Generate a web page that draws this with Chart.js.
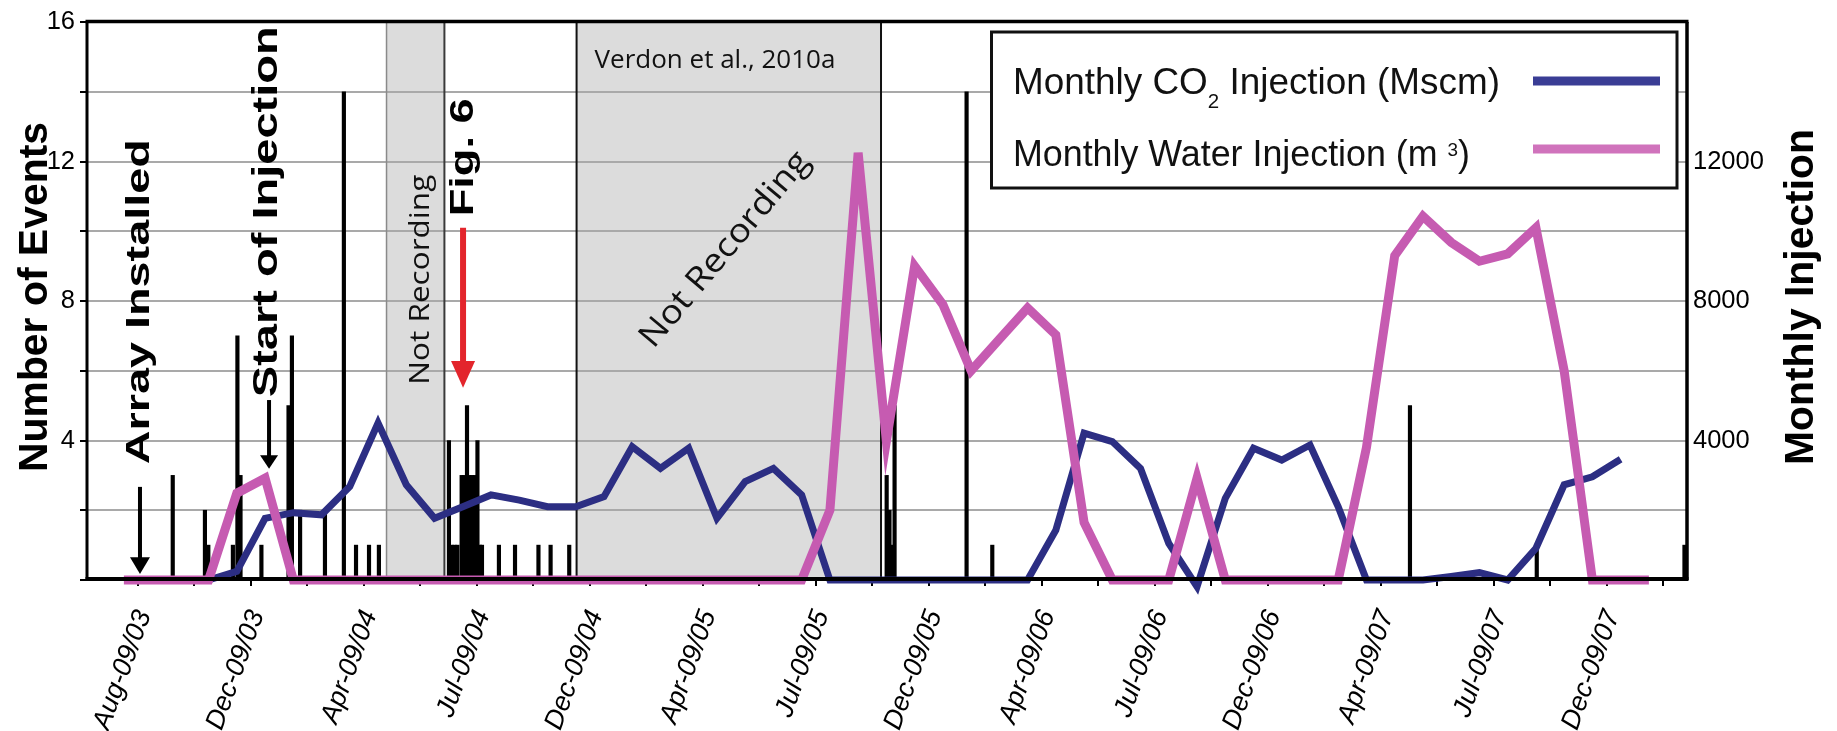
<!DOCTYPE html>
<html>
<head>
<meta charset="utf-8">
<script src="https://cdn.jsdelivr.net/npm/chart.js@4.4.0/dist/chart.umd.min.js"></script>
<style>
  html, body { margin: 0; padding: 0; background: #ffffff; }
  #wrap { width: 1837px; height: 731px; }
</style>
</head>
<body>
<div id="wrap"><canvas id="c" width="1837" height="731"></canvas></div>
<script>
// ---- Data (x values are month positions; 0 = Aug-09/03 region) ----
const xTickLabels = ['Aug-09/03', 'Dec-09/03', 'Apr-09/04', 'Jul-09/04', 'Dec-09/04', 'Apr-09/05',
  'Jul-09/05', 'Dec-09/05', 'Apr-09/06', 'Jul-09/06', 'Dec-09/06', 'Apr-09/07', 'Jul-09/07', 'Dec-09/07'];

// Monthly CO2 injection (Mscm), first value at month 2
const co2StartMonth = 2;
const co2Injection = [0, 250, 1770, 1930, 1870, 2680, 4500, 2730, 1770, 2100, 2440, 2290, 2100, 2100,
  2390, 3820, 3200, 3780, 1770, 2820, 3200, 2440, 0, 0, 0, 0, 0, 0, 0, 0, 1430, 4210, 3970, 3200, 1050,
  -190, 2340, 3780, 3440, 3870, 2100, 0, 0, 0, 100, 210, 0, 910, 2730, 2960, 3460];

// Monthly water injection (m3), first value at month -1
const waterStartMonth = -1;
const waterInjection = [0, 0, 0, 0, 2490, 2920, 0, 0, 0, 0, 0, 0, 0, 0, 0, 0, 0, 0, 0, 0, 0, 0, 0, 0, 0,
  2000, 12250, 3980, 9000, 7900, 6000, 6900, 7800, 7030, 1650, 0, 0, 0, 2920, 0, 0, 0, 0, 0,
  3800, 9300, 10430, 9680, 9140, 9350, 10100, 6000, 0, 0, 0];

// Recorded microseismic events
const eventMonth = [0.73, 1.87, 1.99, 2.86, 3.02, 3.13, 3.87, 4.83, 4.95, 5.24, 6.12, 6.79, 7.22, 7.68, 8.03,
  10.51, 10.60, 10.71, 10.81, 10.96, 11.04, 11.15, 11.24, 11.33, 11.42, 11.52, 11.61, 11.68,
  12.28, 12.85, 13.68, 14.11, 14.77,
  26.01, 26.11, 26.20, 26.29, 28.84, 29.75, 44.54, 49.03, 54.26];
const eventCount = [3, 2, 1, 1, 7, 3, 1, 5, 7, 2, 2, 14, 1, 1, 1,
  4, 1, 1, 1, 3, 3, 5, 3, 3, 3, 4, 1, 1,
  1, 1, 1, 1, 1,
  3, 2, 1, 5, 14, 1, 5, 1, 1];

// Periods with no recording (month ranges)
const notRecording = [[8.30, 10.35], [15.03, 25.81]];

// ---- Build datasets ----
const co2Points = co2Injection.map((v, i) => ({ x: co2StartMonth + i, y: v }));
const waterPoints = waterInjection.map((v, i) => ({ x: waterStartMonth + i, y: v }));
const eventPoints = eventMonth.map((m, i) => ({ x: m, y: eventCount[i] }));
const xTickValues = [];
for (let k = 0; k < 28; k++) xTickValues.push(-0.5 + 2 * k);

const SANS = "'Liberation Sans', Arial, sans-serif";
const HUMAN = "'Open Sans', 'Noto Sans', sans-serif";
const BLUE = '#2c2e83';
const PINK = '#c65bb1';

function textStretched(ctx, text, x, y, angle, font, length, baseline) {
  ctx.save();
  ctx.font = font;
  ctx.textAlign = 'center';
  ctx.textBaseline = baseline || 'alphabetic';
  const w = ctx.measureText(text).width;
  const s = length ? length / w : 1;
  ctx.translate(x, y);
  ctx.rotate(angle);
  ctx.scale(s, 1);
  ctx.fillText(text, 0, 0);
  ctx.restore();
}

function arrowDown(ctx, x, yTop, yHead, yTip, halfW, shaftW, color) {
  ctx.save();
  ctx.fillStyle = color;
  ctx.fillRect(x - shaftW / 2, yTop, shaftW, yHead - yTop + 2);
  ctx.beginPath();
  ctx.moveTo(x - halfW, yHead);
  ctx.lineTo(x + halfW, yHead);
  ctx.lineTo(x, yTip);
  ctx.closePath();
  ctx.fill();
  ctx.restore();
}

// Rich text row: pieces of {t, size, dy}; scaled to a target width
function richRow(ctx, pieces, x, y, width) {
  let total = 0;
  pieces.forEach(p => { ctx.font = p.size + 'px ' + SANS; p.w = ctx.measureText(p.t).width; total += p.w; });
  const s = width / total;
  ctx.save();
  ctx.translate(x, y);
  ctx.scale(s, 1);
  ctx.textAlign = 'left';
  ctx.textBaseline = 'alphabetic';
  ctx.fillStyle = '#111';
  let cx = 0;
  pieces.forEach(p => { ctx.font = p.size + 'px ' + SANS; ctx.fillText(p.t, cx, p.dy || 0); cx += p.w; });
  ctx.restore();
}

const decor = {
  id: 'decor',
  beforeDraw(chart) {
    const { ctx, chartArea: a, scales } = chart;
    ctx.save();
    ctx.fillStyle = '#ffffff';
    ctx.fillRect(0, 0, chart.width, chart.height);
    ctx.fillStyle = '#dcdcdc';
    notRecording.forEach(([m0, m1]) => {
      const x0 = scales.x.getPixelForValue(m0), x1 = scales.x.getPixelForValue(m1);
      ctx.fillRect(x0, a.top, x1 - x0, a.bottom - a.top);
    });
    ctx.restore();
  },
  beforeDatasetsDraw(chart) {
    const { ctx, chartArea: a, scales } = chart;
    ctx.save();
    const styles = [['#8a8a8a', 1.5, '#3a3a3a', 2], ['#111111', 2, '#111111', 2]];
    notRecording.forEach(([m0, m1], i) => {
      const x0 = scales.x.getPixelForValue(m0), x1 = scales.x.getPixelForValue(m1);
      const st = styles[i];
      ctx.strokeStyle = st[0]; ctx.lineWidth = st[1];
      ctx.beginPath(); ctx.moveTo(x0, a.top); ctx.lineTo(x0, a.bottom); ctx.stroke();
      ctx.strokeStyle = st[2]; ctx.lineWidth = st[3];
      ctx.beginPath(); ctx.moveTo(x1, a.top); ctx.lineTo(x1, a.bottom); ctx.stroke();
    });
    ctx.restore();
  },
  afterDatasetsDraw(chart) {
    const { ctx, chartArea: a, scales } = chart;
    const X = v => scales.x.getPixelForValue(v);
    const Y = v => scales.y.getPixelForValue(v);
    ctx.save();

    // plot frame
    ctx.strokeStyle = '#000';
    ctx.lineWidth = 3.5;
    ctx.beginPath(); ctx.moveTo(a.left - 1.5, a.top - 0.5); ctx.lineTo(a.right + 1.5, a.top - 0.5); ctx.stroke();
    ctx.lineWidth = 3;
    ctx.beginPath(); ctx.moveTo(a.left, a.top); ctx.lineTo(a.left, a.bottom); ctx.stroke();
    ctx.lineWidth = 3.5;
    ctx.beginPath(); ctx.moveTo(a.right, a.top); ctx.lineTo(a.right, a.bottom); ctx.stroke();
    ctx.lineWidth = 4;
    ctx.beginPath(); ctx.moveTo(a.left - 1.5, a.bottom - 1); ctx.lineTo(a.right + 1.5, a.bottom - 1); ctx.stroke();

    ctx.fillStyle = '#000';
    // axis titles
    const midY = (a.top + a.bottom) / 2 - 4;
    textStretched(ctx, 'Number of Events', a.left - 40, midY, -Math.PI / 2, 'bold 40px ' + SANS, 350);
    textStretched(ctx, 'Monthly Injection', a.right + 126, midY, -Math.PI / 2, 'bold 40px ' + SANS, 336);

    // event annotations
    textStretched(ctx, 'Array Installed', X(-0.11), Y(7.98), -Math.PI / 2, 'bold 34px ' + SANS, 325);
    arrowDown(ctx, X(-0.43), Y(2.67), Y(0.65), Y(0.17), 10, 4, '#000');
    textStretched(ctx, 'Start of Injection', X(4.42), Y(10.56), -Math.PI / 2, 'bold 35px ' + SANS, 371);
    arrowDown(ctx, X(4.14), Y(5.16), Y(3.58), Y(3.19), 9, 4, '#000');
    textStretched(ctx, 'Fig. 6', X(11.36), Y(12.12), -Math.PI / 2, 'bold 34px ' + SANS, 118);
    arrowDown(ctx, X(11.01), Y(10.1), Y(6.28), Y(5.51), 12, 6, '#e3252c');

    // not-recording labels
    ctx.fillStyle = '#111';
    textStretched(ctx, 'Not Recording', X(9.79), Y(8.61), -Math.PI / 2, '27px ' + HUMAN, 210);
    textStretched(ctx, 'Not Recording', X(20.29), Y(9.47), -50 * Math.PI / 180, '33px ' + HUMAN, 245, 'middle');
    ctx.font = '26px ' + HUMAN;
    ctx.textAlign = 'left';
    ctx.textBaseline = 'alphabetic';
    ctx.fillText('Verdon et al., 2010a', X(notRecording[1][0]) + 18, a.top + 46);

    // legend
    const lx0 = a.right - 695.5, lx1 = a.right - 10, ly0 = a.top + 10, ly1 = a.top + 166;
    ctx.fillStyle = '#fff';
    ctx.fillRect(lx0, ly0, lx1 - lx0, ly1 - ly0);
    ctx.strokeStyle = '#111';
    ctx.lineWidth = 3;
    ctx.strokeRect(lx0, ly0, lx1 - lx0, ly1 - ly0);
    richRow(ctx, [{ t: 'Monthly CO', size: 36 }, { t: '2', size: 20, dy: 14 }, { t: ' Injection (Mscm)', size: 36 }],
      lx0 + 21.5, ly0 + 62, 487);
    richRow(ctx, [{ t: 'Monthly Water Injection (m ', size: 36 }, { t: '3', size: 19, dy: -10 }, { t: ')', size: 36 }],
      lx0 + 21.5, ly0 + 134, 457);
    ctx.lineWidth = 9;
    ctx.lineCap = 'butt';
    ctx.strokeStyle = '#3a3d95';
    ctx.beginPath(); ctx.moveTo(lx0 + 541.5, ly0 + 49); ctx.lineTo(lx0 + 668.5, ly0 + 49); ctx.stroke();
    ctx.strokeStyle = '#d073bc';
    ctx.beginPath(); ctx.moveTo(lx0 + 541.5, ly0 + 117); ctx.lineTo(lx0 + 668.5, ly0 + 117); ctx.stroke();

    ctx.restore();
  }
};

new Chart(document.getElementById('c'), {
  type: 'bar',
  data: {
    datasets: [
      {
        type: 'line', label: 'Monthly Water Injection (m3)', data: waterPoints, yAxisID: 'y1',
        borderColor: PINK, borderWidth: 9, pointRadius: 0, tension: 0, fill: false, clip: false,
        borderJoinStyle: 'miter', order: 0
      },
      {
        type: 'line', label: 'Monthly CO2 Injection (Mscm)', data: co2Points, yAxisID: 'y1',
        borderColor: BLUE, borderWidth: 7, pointRadius: 0, tension: 0, fill: false, clip: false,
        borderJoinStyle: 'miter', order: 1
      },
      {
        type: 'bar', label: 'Number of Events', data: eventPoints, yAxisID: 'y',
        backgroundColor: '#000', borderWidth: 0, barThickness: 3.5, order: 2
      }
    ]
  },
  options: {
    responsive: false,
    devicePixelRatio: 1,
    animation: false,
    layout: { padding: { top: 22, left: 0, right: 0, bottom: 0 } },
    plugins: { legend: { display: false }, tooltip: { enabled: false } },
    scales: {
      x: {
        type: 'linear', bounds: 'data', min: -2.306, max: 54.35, offset: false,
        afterBuildTicks: s => { s.ticks = xTickValues.map(v => ({ value: v })); },
        afterFit: s => { s.height = 151; },
        grid: { offset: false, drawOnChartArea: false, drawTicks: true, tickLength: 6, tickColor: '#000', lineWidth: 2 },
        border: { display: false },
        ticks: {
          autoSkip: false, minRotation: 70, maxRotation: 70, padding: 20, labelOffset: 6,
          color: '#000', font: { family: SANS, size: 27, style: 'italic' },
          callback: (v, i) => (i % 2 === 0 ? xTickLabels[i / 2] : '')
        }
      },
      y: {
        position: 'left', min: 0, max: 16,
        afterFit: s => { s.width = 87; },
        grid: { color: '#a9a9a9', lineWidth: 2, drawTicks: true, tickLength: 7, tickColor: '#000' },
        border: { display: false },
        ticks: {
          stepSize: 2, padding: 5, color: '#000', font: { family: SANS, size: 25.5 },
          callback: v => (v !== 0 && v % 4 === 0 ? String(v) : '')
        }
      },
      y1: {
        position: 'right', min: 0, max: 16000,
        afterFit: s => { s.width = 150; },
        grid: { drawOnChartArea: false, drawTicks: false },
        border: { display: false },
        ticks: {
          stepSize: 2000, padding: 6, color: '#000', font: { family: SANS, size: 25.5 },
          callback: v => (v !== 0 && v !== 16000 && v % 4000 === 0 ? String(v) : '')
        }
      }
    }
  },
  plugins: [decor]
});
</script>
</body>
</html>
